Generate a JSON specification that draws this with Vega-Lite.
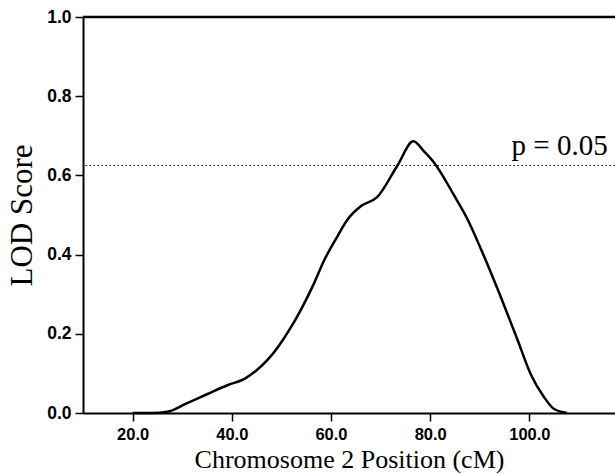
{
  "$schema": "https://vega.github.io/schema/vega-lite/v6.json",
  "width": 532,
  "height": 396,
  "autosize": {"type": "none"},
  "padding": {"left": 83, "top": 17, "right": 0, "bottom": 62},
  "background": "white",
  "config": {"view": {"stroke": null}},
  "datasets": {
    "lod": [
      {"pos": 20.0, "lod": 0.0},
      {"pos": 24.0, "lod": 0.0},
      {"pos": 27.0, "lod": 0.003},
      {"pos": 31.0, "lod": 0.025},
      {"pos": 35.1, "lod": 0.048},
      {"pos": 39.1, "lod": 0.07},
      {"pos": 42.8, "lod": 0.088},
      {"pos": 45.0, "lod": 0.108},
      {"pos": 47.2, "lod": 0.134},
      {"pos": 49.5, "lod": 0.17},
      {"pos": 51.5, "lod": 0.208},
      {"pos": 53.9, "lod": 0.26},
      {"pos": 56.6, "lod": 0.328},
      {"pos": 58.6, "lod": 0.385},
      {"pos": 61.3, "lod": 0.446},
      {"pos": 63.3, "lod": 0.488},
      {"pos": 66.0, "lod": 0.522},
      {"pos": 69.3, "lod": 0.545},
      {"pos": 73.4, "lod": 0.625},
      {"pos": 76.6, "lod": 0.686},
      {"pos": 78.8, "lod": 0.66},
      {"pos": 80.8, "lod": 0.632},
      {"pos": 84.8, "lod": 0.55},
      {"pos": 87.5, "lod": 0.49},
      {"pos": 90.2, "lod": 0.415},
      {"pos": 94.2, "lod": 0.294},
      {"pos": 97.6, "lod": 0.185},
      {"pos": 100.2, "lod": 0.1},
      {"pos": 102.9, "lod": 0.041},
      {"pos": 105.0, "lod": 0.01},
      {"pos": 107.6, "lod": 0.0}
    ],
    "thr": [{"lod": 0.625, "label": "p = 0.05", "pos": 106.1}]
  },
  "layer": [
    {
      "data": {"name": "thr"},
      "mark": {"type": "rule", "color": "black", "strokeWidth": 1, "strokeDash": [1.5, 2.5]},
      "encoding": {"y": {"field": "lod", "type": "quantitative", "scale": {"domain": [0, 1]}}}
    },
    {
      "data": {"name": "thr"},
      "mark": {"type": "text", "font": "Liberation Serif", "fontSize": 29, "baseline": "alphabetic", "dy": -11, "color": "black"},
      "encoding": {
        "x": {"field": "pos", "type": "quantitative", "scale": {"domain": [10, 117.26]}},
        "y": {"field": "lod", "type": "quantitative"},
        "text": {"field": "label"}
      }
    },
    {
      "data": {"values": [{"top": 1}]},
      "mark": {"type": "rule", "color": "black", "strokeWidth": 2.5},
      "encoding": {"y": {"field": "top", "type": "quantitative"}}
    },
    {
      "data": {"name": "lod"},
      "mark": {"type": "line", "color": "black", "strokeWidth": 2.5, "interpolate": "monotone"},
      "encoding": {
        "x": {
          "field": "pos", "type": "quantitative",
          "scale": {"domain": [10, 117.26], "nice": false, "zero": false},
          "axis": {
            "values": [20, 40, 60, 80, 100], "format": ".1f", "grid": false,
            "domainColor": "black", "domainWidth": 2, "tickColor": "black", "tickWidth": 1.5, "tickSize": 8,
            "labelFont": "Liberation Sans", "labelFontSize": 16.5, "labelFontWeight": "bold", "labelColor": "black", "labelPadding": 5,
            "title": "Chromosome 2 Position (cM)", "titleFont": "Liberation Serif", "titleFontSize": 26, "titleFontWeight": "normal", "titleColor": "black", "titlePadding": 4
          }
        },
        "y": {
          "field": "lod", "type": "quantitative",
          "scale": {"domain": [0, 1], "nice": false},
          "axis": {
            "values": [0, 0.2, 0.4, 0.6, 0.8, 1.0], "format": ".1f", "grid": false,
            "domainColor": "black", "domainWidth": 2, "tickColor": "black", "tickWidth": 1.5, "tickSize": 8,
            "labelFont": "Liberation Sans", "labelFontSize": 17.5, "labelFontWeight": "bold", "labelColor": "black", "labelPadding": 4,
            "title": "LOD Score", "titleFont": "Liberation Serif", "titleFontSize": 31, "titleFontWeight": "normal", "titleColor": "black", "titlePadding": 8
          }
        }
      }
    }
  ]
}
